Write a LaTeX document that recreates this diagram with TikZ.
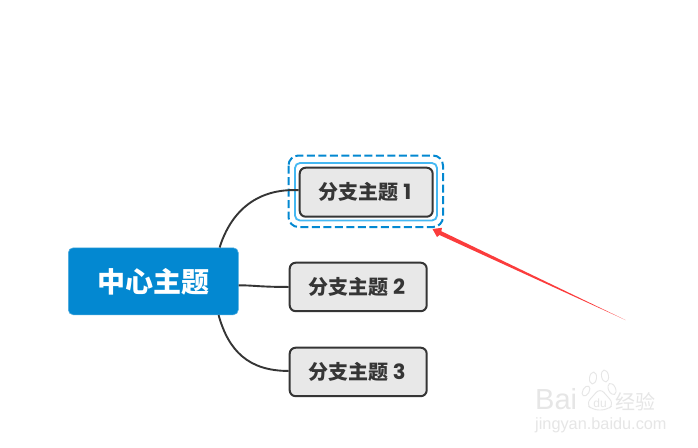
\documentclass[tikz,border=0pt]{standalone}
\usepackage{fontspec}
\newfontfamily\cjk{Noto Sans CJK SC}
\newfontfamily\digitfont{Poppins}
\newfontfamily\wmfont{Liberation Sans}
\usetikzlibrary{calc,shapes.geometric}
\definecolor{topicblue}{HTML}{0388D1}
\definecolor{edgeblack}{HTML}{353535}
\definecolor{branchfill}{HTML}{E8E8E8}
\definecolor{selblue}{HTML}{45B8F2}
\definecolor{arrowred}{HTML}{FB3C3C}
\definecolor{wm}{HTML}{E6E6E6}
\tikzset{
  x=1pt,y=-1pt,
  central/.style={draw=topicblue!70!white,line width=.6pt,fill=topicblue,rounded corners=5pt,text=white,font=\cjk\bfseries\fontsize{28}{28}\selectfont,inner sep=0pt,anchor=north west},
  branch/.style={draw=edgeblack,line width=2pt,fill=branchfill,rounded corners=6pt,text=edgeblack,font=\cjk\bfseries\fontsize{20}{20}\selectfont,inner sep=0pt,anchor=north west},
  link/.style={draw=edgeblack,line width=1.9pt},
  wmtext/.style={text=wm,inner sep=0pt},
}
\begin{document}
\begin{tikzpicture}
\useasboundingbox (0,0) rectangle (698,447);
\path[fill=white] (0,0) rectangle (698,447);
% selection outlines
\draw[topicblue,line width=2pt,dash pattern=on 8pt off 3.5pt,rounded corners=10pt] (288.5,155.5) rectangle (443,227);
\draw[selblue,line width=1.8pt,rounded corners=5pt] (295,163) rectangle (437,220.5);
% nodes
\node[central,minimum width=170pt,minimum height=67pt] (c) at (68,247.5) {\raisebox{1pt}{中心主题}};
\node[branch,minimum width=133pt,minimum height=49pt] (b1) at (298.7,166.7) {\hspace*{-2.5pt}\raisebox{1pt}{分支主题 {\digitfont\fontsize{21}{21}\selectfont 1}}};
\node[branch,minimum width=137pt,minimum height=48.5pt] (b2) at (288.7,261.7) {\hspace*{-2.5pt}\raisebox{0.5pt}{分支主题 {\digitfont\fontsize{21}{21}\selectfont 2}}};
\node[branch,minimum width=137pt,minimum height=48.5pt] (b3) at (288.7,346.7) {\hspace*{-2.5pt}\raisebox{0.5pt}{分支主题 {\digitfont\fontsize{21}{21}\selectfont 3}}};
% connectors
\coordinate (s1) at ($(c.north east)+(-19,0)$);
\coordinate (s2) at ($(c.east)+(0,4)$);
\coordinate (s3) at ($(c.south east)+(-20,0)$);
\coordinate (e1) at ($(b1.west)+(0,-2)$);
\coordinate (e2) at ($(b2.west)+(0,0)$);
\coordinate (e3) at ($(b3.west)+(0,-1)$);
\draw[link] (s1) .. controls ($(s1)+(12,-38)$) and ($(e1)+(-40,-2)$) .. (e1);
\draw[link] (s2) .. controls ($(s2)+(16,0)$) and ($(e2)+(-30,0)$) .. (e2);
\draw[link] (s3) .. controls ($(s3)+(10,36)$) and ($(e3)+(-40,0)$) .. (e3);
% red callout arrow
\fill[arrowred] (432.5,229) -- (442,227.8) -- (441.3,231.2) -- (625.5,320) -- (439.5,235) -- (437,237) -- cycle;
% watermark
\begin{scope}[wm,line width=.9pt]
\draw[rotate around={-30:(586,391)}] (586,391) ellipse (3.2pt and 5.5pt);
\draw[rotate around={-8:(593,378)}] (593,378) ellipse (3.5pt and 6pt);
\draw[rotate around={10:(605,376)}] (605,376) ellipse (3.5pt and 6pt);
\draw[rotate around={25:(612,389)}] (612,389) ellipse (3.5pt and 6pt);
\draw[rounded corners=6pt] (586,404) -- (600,388) -- (614,404) -- (607,410) -- (593,410) -- cycle;
\end{scope}
\node[wmtext,font=\wmfont\fontsize{29}{29}\selectfont,anchor=west] (wm1) at (535,399.5) {Bai};
\node[wmtext,font=\wmfont\fontsize{12}{12}\selectfont] (wm2) at (600,403) {du};
\node[wmtext,font=\cjk\fontsize{20}{20}\selectfont,anchor=west] (wm3) at (615,402) {经验};
\node[wmtext,font=\wmfont\fontsize{16.3}{16.3}\selectfont,anchor=west] (wm4) at (535,425) {jingyan.baidu.com};
\end{tikzpicture}
\end{document}
